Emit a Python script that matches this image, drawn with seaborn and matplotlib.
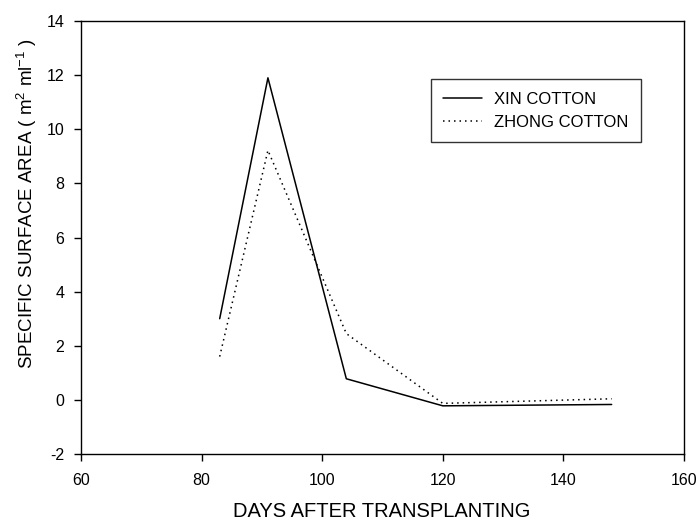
import matplotlib
matplotlib.use("Agg")
import matplotlib.pyplot as plt
import seaborn as sns
import pandas as pd

days = [83, 91, 104, 120, 148]
xin_cotton = [3.0, 11.9, 0.78, -0.22, -0.17]
zhong_cotton = [1.6, 9.22, 2.45, -0.13, 0.04]
series_names = ["XIN COTTON", "ZHONG COTTON"]
x_ticks = [60, 80, 100, 120, 140, 160]
y_ticks = [-2, 0, 2, 4, 6, 8, 10, 12, 14]

df = pd.DataFrame({
    "day": days * 2,
    "value": xin_cotton + zhong_cotton,
    "variety": [series_names[0]] * len(days) + [series_names[1]] * len(days),
})

sns.set_style("ticks")
plt.rcParams["font.family"] = ["Liberation Sans", "DejaVu Sans"]
plt.rcParams["mathtext.default"] = "regular"
plt.rcParams["axes.unicode_minus"] = False
plt.rcParams["text.color"] = "black"
plt.rcParams["axes.labelcolor"] = "black"
plt.rcParams["xtick.color"] = "black"
plt.rcParams["ytick.color"] = "black"

fig = plt.figure(figsize=(6.99, 5.23), dpi=100)
ax = fig.add_axes([81 / 699, 1 - 454 / 523, 603 / 699, 433 / 523])

sns.lineplot(data=df, x="day", y="value", hue="variety", style="variety",
             palette={series_names[0]: "black", series_names[1]: "black"},
             dashes={series_names[0]: "", series_names[1]: (1, 2.6)},
             linewidth=1.1, ax=ax, legend=True)

ax.set_xlim(60, 160)
ax.set_ylim(-2, 14)
ax.set_xticks(x_ticks)
ax.set_yticks(y_ticks)
ax.tick_params(direction="out", length=5, width=1, labelsize=11.5,
               colors="black", labelcolor="black")
ax.tick_params(axis="x", pad=8.5)
ax.tick_params(axis="y", pad=7)
for s in ax.spines.values():
    s.set_visible(True)
    s.set_linewidth(1)
    s.set_color("black")

ax.set_xlabel("DAYS AFTER TRANSPLANTING", fontsize=14.5, color="black")
ax.set_ylabel("SPECIFIC SURFACE AREA ( m$^2$ ml$^{-1}$ )", fontsize=13.5, color="black")
ax.xaxis.set_label_coords(0.499, -0.112)
ax.yaxis.set_label_coords(-0.0697, 0.578)

leg = ax.legend(loc="upper left", bbox_to_anchor=(0.58, 0.866), fontsize=12,
                frameon=True, fancybox=False, handlelength=2.3, borderpad=0.75,
                labelspacing=0.5, handletextpad=0.75, borderaxespad=0)
leg.get_frame().set_edgecolor("black")
leg.get_frame().set_linewidth(1)
for t in leg.get_texts():
    t.set_color("black")
for h in leg.get_lines():
    h.set_linewidth(1.1)
    h.set_color("black")

fig.savefig("out.png", dpi=100)
